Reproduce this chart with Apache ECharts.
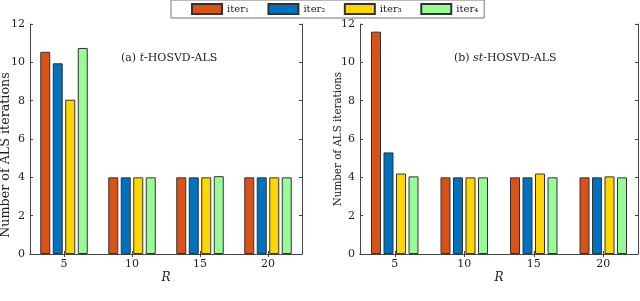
<!DOCTYPE html>
<html><head><meta charset="utf-8">
<script src="https://cdn.jsdelivr.net/npm/echarts@6/dist/echarts.min.js"></script>
<style>html,body{margin:0;padding:0;background:#fff}#c{width:640px;height:301px}</style>
</head><body><div id="c"></div>
<script>
var categories = ['5', '10', '15', '20'];
var seriesNames = ['iter\u2081', 'iter\u2082', 'iter\u2083', 'iter\u2084'];
var colors = ['#D95319', '#0072BD', '#FFD700', '#98FB98'];
// (a) t-HOSVD-ALS
var tIter1 = [10.55, 4, 4, 4];
var tIter2 = [9.95, 4, 4, 4];
var tIter3 = [8.05, 4, 4, 4];
var tIter4 = [10.75, 4, 4.06, 4];
// (b) st-HOSVD-ALS
var stIter1 = [11.6, 4, 4, 4];
var stIter2 = [5.3, 4, 4, 4];
var stIter3 = [4.2, 4, 4.2, 4.05];
var stIter4 = [4.05, 4, 4, 4];
var yTicks = {min: 0, max: 12, interval: 2};

var FONT = 'DejaVu Serif';
var left = [tIter1, tIter2, tIter3, tIter4];
var right = [stIter1, stIter2, stIter3, stIter4];
var axisCol = '#444';

function xAx(gi, pos) {
  var show = pos === 'bottom';
  return {
    type: 'category', data: categories, gridIndex: gi, position: pos,
    axisLine: {show: true, lineStyle: {color: axisCol, width: 1}},
    axisTick: {show: true, inside: true, alignWithLabel: true, length: 3, lineStyle: {color: axisCol}},
    axisLabel: {show: show, color: '#222', fontFamily: FONT, fontSize: 11, margin: 5},
    name: show ? 'R' : '', nameLocation: 'middle', nameGap: 18, nameMoveOverlap: false,
    nameTextStyle: {fontFamily: FONT, fontStyle: 'italic', fontSize: 12, color: '#222'}
  };
}
function yAx(gi, pos, nameSize, nameGap, namePad) {
  var show = pos === 'left';
  return {
    type: 'value', gridIndex: gi, position: pos, min: yTicks.min, max: yTicks.max, interval: yTicks.interval,
    axisLine: {show: true, lineStyle: {color: axisCol, width: 1}},
    axisTick: {show: true, inside: true, length: 3, lineStyle: {color: axisCol}},
    splitLine: {show: false},
    axisLabel: {show: show, color: '#222', fontFamily: FONT, fontSize: 11, margin: 5},
    name: show ? 'Number of ALS iterations' : '', nameLocation: 'middle', nameGap: nameGap || 17,
    nameMoveOverlap: false,
    nameTextStyle: {fontFamily: FONT, fontSize: nameSize || 11, color: '#222', padding: namePad || 0}
  };
}

var series = [];
[left, right].forEach(function (set, gi) {
  set.forEach(function (vals, i) {
    series.push({
      type: 'bar', name: seriesNames[i], xAxisIndex: gi * 2, yAxisIndex: gi * 2,
      data: vals, barWidth: 10, barGap: '25%',
      itemStyle: {color: colors[i], borderColor: '#333', borderWidth: 1}
    });
  });
});

function titleStyle() {
  return {fontFamily: FONT, fontSize: 11, fontWeight: 'normal', color: '#222',
    rich: {i: {fontFamily: FONT, fontStyle: 'italic', fontSize: 11, color: '#222'}}};
}

var chart = echarts.init(document.getElementById('c'));
chart.setOption({
  animation: false,
  color: colors,
  grid: [
    {left: 30, right: 338, top: 24, bottom: 47, outerBoundsMode: 'none', containLabel: false},
    {left: 360, right: 2, top: 24, bottom: 47, outerBoundsMode: 'none', containLabel: false}
  ],
  xAxis: [xAx(0, 'bottom'), xAx(0, 'top'), xAx(1, 'bottom'), xAx(1, 'top')],
  yAxis: [yAx(0, 'left', 12.7, 18, [0, 32, 0, 0]), yAx(0, 'right'), yAx(1, 'left', 10.3, 17), yAx(1, 'right')],
  legend: {
    data: seriesNames, left: 171, top: 0,
    itemWidth: 30, itemHeight: 10, itemGap: 18.5,
    padding: [3, 6, 3, 20],
    borderColor: '#777', borderWidth: 1, backgroundColor: '#fff',
    textStyle: {fontFamily: FONT, fontSize: 10, color: '#222'},
    icon: 'rect'
  },
  title: [
    {text: '(a) {i|t}-HOSVD-ALS', left: 116, top: 48, textStyle: titleStyle()},
    {text: '(b) {i|st}-HOSVD-ALS', left: 449, top: 48, textStyle: titleStyle()}
  ],
  series: series
});
</script></body></html>
